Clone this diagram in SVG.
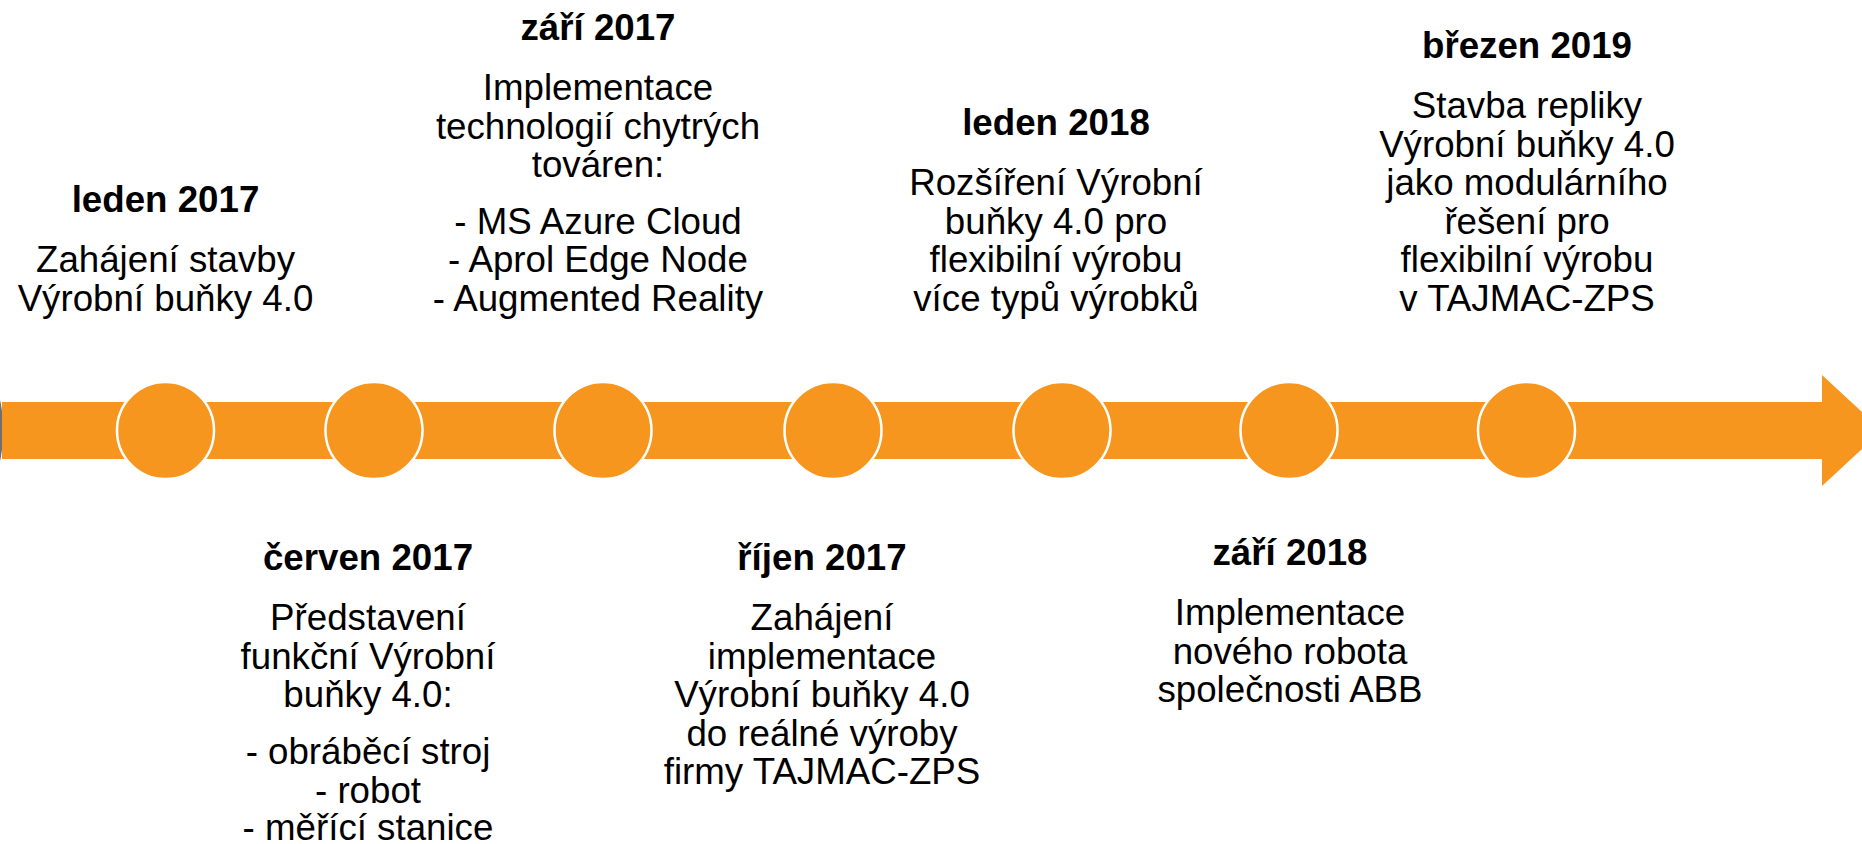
<svg xmlns="http://www.w3.org/2000/svg" width="1862" height="844" viewBox="0 0 1862 844">
<style>
.t{font-family:"Liberation Sans",Arial,sans-serif;font-size:36.7px;fill:#000;text-anchor:middle}
.h{font-weight:bold}
.dot{fill:#F7961E;stroke:#fff;stroke-width:2.5}
</style>
<rect width="1862" height="844" fill="#fff"/>
<g id="timeline">
<ellipse cx="-4" cy="430.5" rx="7" ry="37" fill="#6f6f6f"/>
<rect x="2" y="402" width="1823" height="57" fill="#F7961E"/>
<polygon points="1822,375 1882,430.5 1822,486" fill="#F7961E"/>
</g>
<g id="markers">
<circle class="dot" cx="165.5" cy="430.5" r="48.5"/>
<circle class="dot" cx="374" cy="430.5" r="48.5"/>
<circle class="dot" cx="603" cy="430.5" r="48.5"/>
<circle class="dot" cx="833" cy="430.5" r="48.5"/>
<circle class="dot" cx="1062" cy="430.5" r="48.5"/>
<circle class="dot" cx="1289" cy="430.5" r="48.5"/>
<circle class="dot" cx="1526.5" cy="430.5" r="48.5"/>
</g>
<g id="leden2017" class="t">
<text class="h" x="165.5" y="212">leden 2017</text>
<text x="165.5" y="272">Zahájení stavby</text>
<text x="165.5" y="310.5">Výrobní buňky 4.0</text>
</g>
<g id="cerven2017" class="t">
<text class="h" x="368" y="570">červen 2017</text>
<text x="368" y="630">Představení</text>
<text x="368" y="668.5">funkční Výrobní</text>
<text x="368" y="707">buňky 4.0:</text>
<text x="368" y="764">- obráběcí stroj</text>
<text x="368" y="802.5">- robot</text>
<text x="368" y="840">- měřící stanice</text>
</g>
<g id="zari2017" class="t">
<text class="h" x="598" y="40">září 2017</text>
<text x="598" y="100">Implementace</text>
<text x="598" y="138.5">technologií chytrých</text>
<text x="598" y="177">továren:</text>
<text x="598" y="233.5">- MS Azure Cloud</text>
<text x="598" y="272">- Aprol Edge Node</text>
<text x="598" y="310.5">- Augmented Reality</text>
</g>
<g id="rijen2017" class="t">
<text class="h" x="822" y="570">říjen 2017</text>
<text x="822" y="630">Zahájení</text>
<text x="822" y="668.5">implementace</text>
<text x="822" y="707">Výrobní buňky 4.0</text>
<text x="822" y="745.5">do reálné výroby</text>
<text x="822" y="784">firmy TAJMAC-ZPS</text>
</g>
<g id="leden2018" class="t">
<text class="h" x="1056" y="135">leden 2018</text>
<text x="1056" y="195">Rozšíření Výrobní</text>
<text x="1056" y="233.5">buňky 4.0 pro</text>
<text x="1056" y="272">flexibilní výrobu</text>
<text x="1056" y="310.5">více typů výrobků</text>
</g>
<g id="zari2018" class="t">
<text class="h" x="1290" y="565">září 2018</text>
<text x="1290" y="625">Implementace</text>
<text x="1290" y="663.5">nového robota</text>
<text x="1290" y="702">společnosti ABB</text>
</g>
<g id="brezen2019" class="t">
<text class="h" x="1527" y="58">březen 2019</text>
<text x="1527" y="118">Stavba repliky</text>
<text x="1527" y="156.5">Výrobní buňky 4.0</text>
<text x="1527" y="195">jako modulárního</text>
<text x="1527" y="233.5">řešení pro</text>
<text x="1527" y="272">flexibilní výrobu</text>
<text x="1527" y="310.5">v TAJMAC-ZPS</text>
</g>
</svg>
